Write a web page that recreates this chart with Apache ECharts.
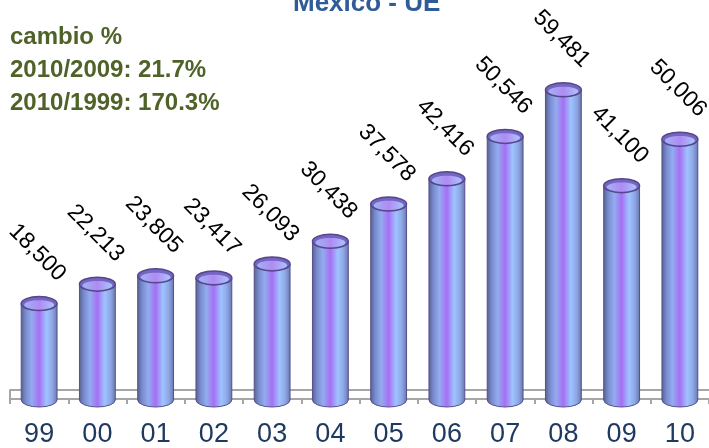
<!DOCTYPE html>
<html>
<head>
<meta charset="utf-8">
<script src="https://cdn.jsdelivr.net/npm/echarts@6/dist/echarts.min.js"></script>
<style>
  html, body { margin: 0; padding: 0; background: #fff; }
  #chart { width: 709px; height: 448px; }
</style>
</head>
<body>
<div id="chart"></div>
<script>
const years = ['99', '00', '01', '02', '03', '04', '05', '06', '07', '08', '09', '10']
const values = [18500, 22213, 23805, 23417, 26093, 30438, 37578, 42416, 50546, 59481, 41100, 50006]
const notes = ['cambio %', '2010/2009: 21.7%', '2010/1999: 170.3%']

const FONT = '"Liberation Sans", Arial, sans-serif'
const floorColor = '#a6a6a6'

const bodyFill = {
  type: 'linear', x: 0, y: 0, x2: 1, y2: 0,
  colorStops: [
    { offset: 0, color: '#55608f' },
    { offset: 0.14, color: '#7a8cd0' },
    { offset: 0.3, color: '#93acf0' },
    { offset: 0.5, color: '#a66ff4' },
    { offset: 0.7, color: '#9ec4ff' },
    { offset: 0.86, color: '#8ea6e6' },
    { offset: 1, color: '#6575a8' },
  ],
}
const capFill = {
  type: 'linear', x: 0, y: 0, x2: 1, y2: 0,
  colorStops: [
    { offset: 0, color: '#9fb4f2' },
    { offset: 0.5, color: '#b08af4' },
    { offset: 1, color: '#a8c6fa' },
  ],
}

function renderCylinder(params, api) {
  const idx = api.value(0)
  const v = api.value(1)
  const top = api.coord([idx, v])
  const base = api.coord([idx, 0])
  const rx = api.size([1, 0])[0] * 0.615 / 2
  const ry = 7
  const cx = top[0]
  const l = cx - rx
  const r = cx + rx
  return {
    type: 'group',
    children: [
      {
        type: 'path',
        shape: { pathData: `M${l},${top[1]} L${l},${base[1]} A${rx},${ry} 0 0 0 ${r},${base[1]} L${r},${top[1]} Z` },
        style: { fill: bodyFill, stroke: '#55508a', lineWidth: 1 },
      },
      {
        type: 'ellipse',
        shape: { cx, cy: top[1], rx, ry },
        style: { fill: '#7564c2', stroke: '#54478a', lineWidth: 1.5 },
      },
      {
        type: 'ellipse',
        shape: { cx, cy: top[1] + 1.4, rx: rx - 3, ry: ry - 2.4 },
        style: { fill: capFill },
      },
      {
        type: 'text',
        x: cx + 23,
        y: top[1] - 26,
        rotation: -Math.PI / 4,
        style: {
          text: v.toLocaleString('en-US'),
          align: 'right',
          verticalAlign: 'middle',
          font: `23px ${FONT}`,
          fill: '#000',
        },
      },
    ],
  }
}

const chart = echarts.init(document.getElementById('chart'), null, { renderer: 'canvas' })

chart.setOption({
  animation: false,
  backgroundColor: '#fff',
  grid: [
    { left: 10, right: -4, top: 35, bottom: 48, containLabel: false },
    { left: 10, right: -4, top: 390, bottom: 36, containLabel: false },
  ],
  xAxis: [
    { gridIndex: 0, type: 'category', data: years, show: false },
    {
      gridIndex: 1,
      type: 'category',
      data: years,
      axisLine: { lineStyle: { color: floorColor, width: 2 } },
      axisTick: { show: true, length: 5, lineStyle: { color: floorColor, width: 2 } },
      axisLabel: { color: '#1f3a60', fontSize: 27, fontFamily: FONT, margin: 22 },
    },
  ],
  yAxis: [
    { gridIndex: 0, type: 'value', min: 0, max: 70000, show: false },
    {
      gridIndex: 1,
      type: 'value',
      min: 0,
      max: 1,
      interval: 1,
      axisLine: { show: true, lineStyle: { color: floorColor, width: 2 } },
      axisTick: { show: false },
      axisLabel: { show: false },
      splitLine: { show: true, lineStyle: { color: floorColor, width: 2 } },
    },
  ],
  graphic: [
    {
      type: 'text',
      left: 293,
      top: -9,
      style: { text: 'México - UE', font: `bold 26px ${FONT}`, fill: '#2f5b97' },
    },
    {
      type: 'text',
      left: 10,
      top: 21,
      style: { text: notes.join('\n'), font: `bold 24px ${FONT}`, fill: '#4f6228', lineHeight: 33 },
    },
  ],
  series: [{
    type: 'custom',
    xAxisIndex: 0,
    yAxisIndex: 0,
    z: 5,
    clip: false,
    renderItem: renderCylinder,
    data: values.map((v, i) => [i, v]),
  }],
})
</script>
</body>
</html>
